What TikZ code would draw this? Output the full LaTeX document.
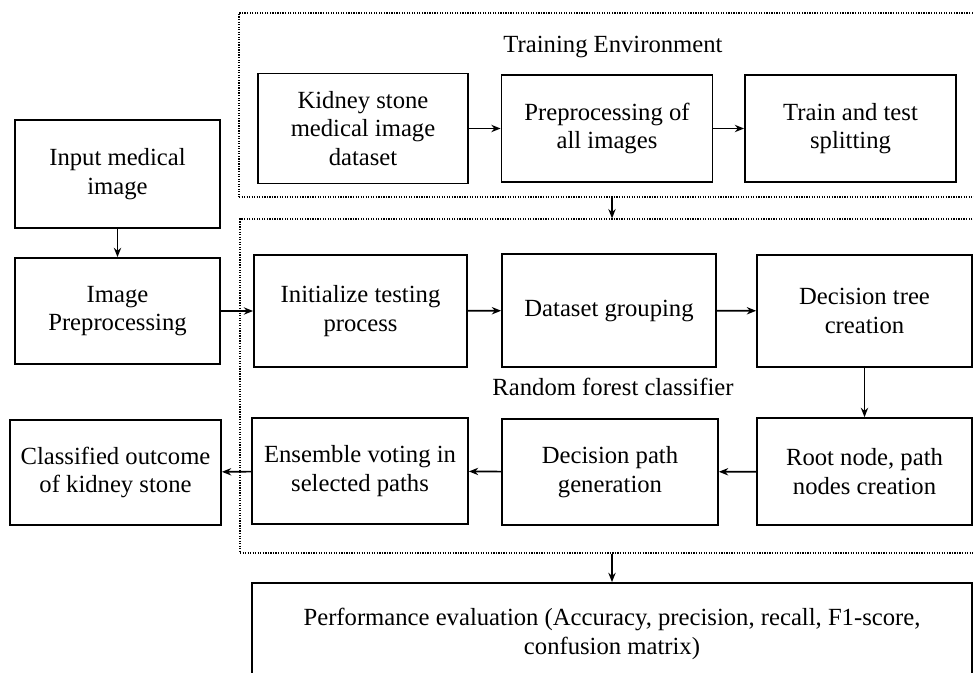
\documentclass[tikz,border=0pt]{standalone}
\usepackage{fontspec}
\setmainfont{Liberation Serif}
\usetikzlibrary{arrows.meta}

\tikzset{
	box/.style={draw=black,line width=1.3pt,align=center,inner sep=0pt},
	envbox/.style={draw=black,line width=0.9pt,densely dotted,inner sep=0pt},
	wh/.style 2 args={minimum width=#1*0.75pt,minimum height=#2*0.75pt},
	arr/.style={line width=1.2pt,-{Stealth[length=7pt,width=5.5pt]}}
}

\begin{document}
\begin{tikzpicture}[x=0.75pt,y=-0.75pt,font=\fontsize{18.5}{21.5}\selectfont]
			\path[use as bounding box,clip] (0,0) rectangle (974,673);

			%dotted frames
			\node [envbox,wh={741}{184}] (trainenv) at (609.5,105) {};
			\node [envbox,wh={740}{334}] (rfenv) at (610,386) {};
			\node [inner sep=0pt] (trainlbl) at (613,47) {Training Environment};
			\node [inner sep=0pt] (rflbl) at (613,387) {Random forest classifier};

			%left nodes
			\node [box,wh={205}{108}] (input) at (117.5,174) {Input medical\\image};
			\node [box,wh={205}{106}] (imgpre) at (117.5,311) {Image\\Preprocessing};
			\node [box,wh={211}{105}] (outcome) at (115.5,472.5) {Classified outcome\\of kidney stone};

			%training nodes
			\node [box,wh={210}{110}] (dataset) at (363,128.5) {Kidney stone\\medical image\\dataset};
			\node [box,wh={211}{107}] (preall) at (607,128.5) {Preprocessing of\\all images};
			\node [box,wh={211}{107}] (split) at (850.5,128.5) {Train and test\\splitting};

			%classifier nodes
			\node [box,wh={213}{112}] (init) at (360.5,311) {Initialize testing\\process};
			\node [box,wh={214}{113}] (group) at (609,310.5) {Dataset grouping};
			\node [box,wh={215}{112}] (tree) at (864.5,311) {Decision tree\\creation};
			\node [box,wh={215}{107}] (root) at (864.5,471.5) {Root node, path\\nodes creation};
			\node [box,wh={216}{106}] (path) at (610,472) {Decision path\\generation};
			\node [box,wh={216}{106}] (vote) at (360,471) {Ensemble voting in\\selected paths};

			%evaluation
			\node [box,wh={720}{102}] (perf) at (612,634) {Performance evaluation (Accuracy, precision, recall, F1-score,\\confusion matrix)};

			%edges
			\draw[arr] (input) -- (imgpre);
			\draw[arr] (imgpre) -- (init);
			\draw[arr] (dataset) -- (preall);
			\draw[arr] (preall) -- (split);
			\draw[arr] (trainenv.south -| perf.north) -- (rfenv.north -| perf.north);
			\draw[arr] (init) -- (group);
			\draw[arr] (group) -- (tree);
			\draw[arr] (tree) -- (root);
			\draw[arr] (root) -- (path);
			\draw[arr] (path) -- (vote);
			\draw[arr] (vote) -- (outcome);
			\draw[arr] (rfenv.south -| perf.north) -- (perf.north);
		\end{tikzpicture}
\end{document}
